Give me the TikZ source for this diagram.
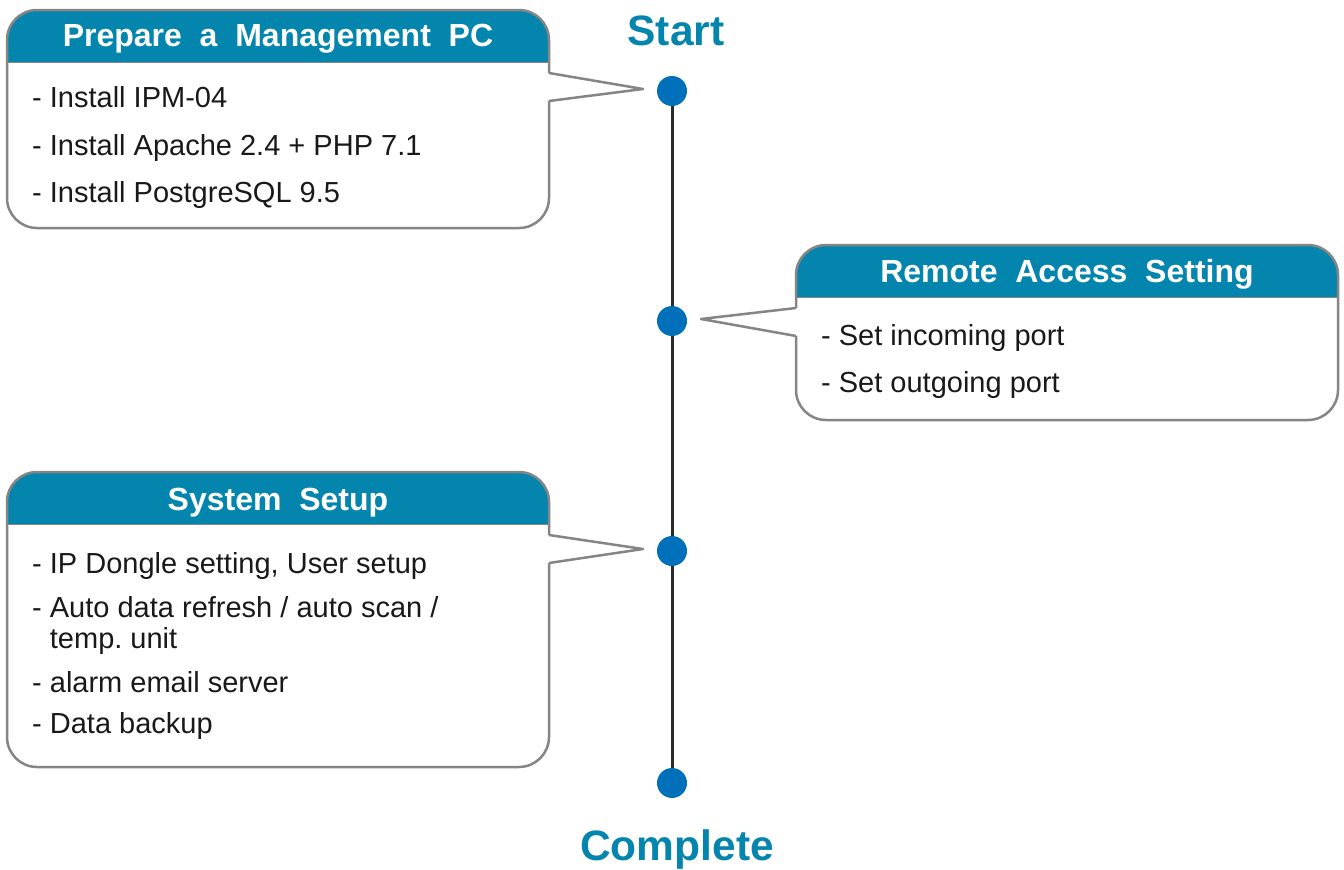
\documentclass[tikz,border=0pt]{standalone}
\usepackage{fontspec}
\setmainfont{Liberation Sans}
\usetikzlibrary{calc,positioning}
\definecolor{headblue}{HTML}{0385AE}
\definecolor{dotblue}{HTML}{0070BB}
\definecolor{rimgray}{HTML}{858585}
\definecolor{stemgray}{HTML}{2B2B2B}
\tikzset{
	panel/.style={fill=white, rounded corners=30pt, minimum width=542pt, inner sep=0pt, outer sep=0pt, anchor=north west},
	rim/.style={draw=rimgray, line width=2.5pt, rounded corners=30pt},
	milestone/.style={circle, fill=dotblue, minimum size=30pt, inner sep=0pt},
	headline/.style={text=white, font=\bfseries\fontsize{32}{38}\selectfont, anchor=base, inner sep=0pt},
	item/.style={font=\fontsize{29}{34}\selectfont, anchor=base west, inner sep=0pt, text=black!90},
	marker/.style={text=headblue, font=\bfseries\fontsize{42.5}{50}\selectfont, inner sep=0pt, anchor=base},
	stem/.style={draw=stemgray, line width=3pt},
	pointer/.style={draw=rimgray, line width=2.5pt, line join=round},
}
\begin{document}
\frenchspacing
\begin{tikzpicture}[x=1pt,y=-1pt]
	\useasboundingbox (0,0) rectangle (1344,870);
	% timeline
	\node[milestone] (start) at (672,91) {};
	\node[milestone] (remote) at (672,321) {};
	\node[milestone] (setup) at (672,551) {};
	\node[milestone] (done) at (672,783) {};
	\draw[stem] (start) -- (remote) -- (setup) -- (done);
	\node[marker] (starttxt) at (676,45) {Start};
	\node[marker] (donetxt) at (677,860) {Complete};
	% panels
	\node[panel, minimum height=218pt] (pc) at (7,10) {};
	\node[panel, minimum height=175pt] (ra) at (796,245) {};
	\node[panel, minimum height=295pt] (ss) at (7,472) {};
	\foreach \p in {pc,ra,ss}{
		\begin{scope}
			\clip[rounded corners=30pt] (\p.north west) rectangle (\p.south east);
			\fill[headblue] (\p.north west) rectangle ($(\p.north east)+(0,52)$);
		\end{scope}
		\draw[rimgray, line width=1pt] ($(\p.north west)+(0,52)$) -- ($(\p.north east)+(0,52)$);
		\draw[rim] (\p.north west) rectangle (\p.south east);
	}
	\node[headline] (pchead) at ($(pc.north)+(0,36)$) {Prepare\ \ a\ \ Management\ \ PC};
	\node[headline] (rahead) at ($(ra.north)+(0,37)$) {Remote\ \ Access\ \ Setting};
	\node[headline] (sshead) at ($(ss.north)+(0,38)$) {System\ \ Setup};
	% callout pointers
	\foreach \p/\side/\tip/\s in {pc/north east/start/1, ra/north west/remote/-1, ss/north east/setup/1}{
		\coordinate (\p tip) at ($(\tip)+({-29*\s},-2)$);
		\fill[white] ($(\p.\side)+({-3*\s},64)$) -- ($(\p.\side)+(0,63)$) -- (\p tip) -- ($(\p.\side)+(0,91)$) -- ($(\p.\side)+({-3*\s},90)$) -- cycle;
		\draw[pointer] ($(\p.\side)+(0,63)$) -- (\p tip) -- ($(\p.\side)+(0,91)$);
	}
	% items
	\node[item] (pc1) at ($(pc.north west)+(25,97)$) {- Install IPM-04};
	\node[item] (pc2) at ($(pc.north west)+(25,145)$) {- Install Apache 2.4 + PHP 7.1};
	\node[item] (pc3) at ($(pc.north west)+(25,192)$) {- Install PostgreSQL 9.5};
	\node[item] (ra1) at ($(ra.north west)+(25,100)$) {- Set incoming port};
	\node[item] (ra2) at ($(ra.north west)+(25,147)$) {- Set outgoing port};
	\node[item] (ss1) at ($(ss.north west)+(25,101)$) {- IP Dongle setting, User setup};
	\node[item] (ss2) at ($(ss.north west)+(25,145)$) {- Auto data refresh / auto scan /};
	\node[item] (ss3) at ($(ss.north west)+(25,176)$) {\phantom{- }temp. unit};
	\node[item] (ss4) at ($(ss.north west)+(25,220)$) {- alarm email server};
	\node[item] (ss5) at ($(ss.north west)+(25,261)$) {- Data backup};
\end{tikzpicture}
\end{document}
